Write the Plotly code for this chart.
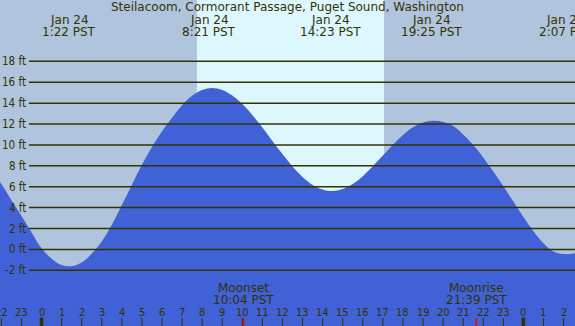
import plotly.graph_objects as go

# ---- data ----
title_text = "Steilacoom, Cormorant Passage, Puget Sound, Washington"

# tide curve samples (every half hour): hours since 00:00 Jan 24 (PST), height in ft
tide_hours = [-2.5, -2.0, -1.5, -1.0, -0.5, 0.0, 0.5, 1.0, 1.5, 2.0, 2.5, 3.0, 3.5,
              4.0, 4.5, 5.0, 5.5, 6.0, 6.5, 7.0, 7.5, 8.0, 8.5, 9.0, 9.5, 10.0, 10.5,
              11.0, 11.5, 12.0, 12.5, 13.0, 13.5, 14.0, 14.5, 15.0, 15.5, 16.0, 16.5,
              17.0, 17.5, 18.0, 18.5, 19.0, 19.5, 20.0, 20.5, 21.0, 21.5, 22.0, 22.5,
              23.0, 23.5, 24.0, 24.5, 25.0, 25.5, 26.0, 26.5, 27.0]
tide_ft = [7.7, 6.25, 4.7, 3.2, 1.65, 0.1, -0.9, -1.5, -1.6, -1.25, -0.4, 0.76, 2.35,
           4.25, 6.2, 8.1, 9.8, 11.3, 12.6, 13.8, 14.7, 15.25, 15.45, 15.25, 14.72, 13.91, 12.86,
           11.66, 10.38, 9.12, 7.94, 6.94, 6.17, 5.73, 5.58, 5.77, 6.26, 7.01, 7.96,
           8.98, 10.02, 10.94, 11.68, 12.15, 12.31, 12.2, 11.8, 11.0, 10.0, 8.8, 7.45,
           6.05, 4.58, 3.1, 1.75, 0.6, -0.2, -0.45, -0.4, -0.1]

# tide extremes (label positions / texts)
extreme_hours = [1.367, 8.35, 14.383, 19.417, 26.117]
extreme_dates = ["Jan 24", "Jan 24", "Jan 24", "Jan 24", "Jan 25"]
extreme_times = ["1:22 PST", "8:21 PST", "14:23 PST", "19:25 PST", "2:07 PST"]

# daylight
sunrise_hour = 7.74
sunset_hour = 17.06

# moon events
moon_hours = [10.067, 21.65]
moon_names = ["Moonset", "Moonrise"]
moon_times = ["10:04 PST", "21:39 PST"]

# axes
grid_ft = [-2, 0, 2, 4, 6, 8, 10, 12, 14, 16, 18]
hour_ticks = list(range(-2, 27))
midnight_hours = [0, 24]

x_range = [-2.07, 26.57]
y_range = [-7.33, 23.87]

# ---- styles ----
W, H = 575, 326
night_col = "#b0c4de"
day_col = "#ddf7ff"
fill_col = "#4161d6"
ink = "#333300"
font_main = "DejaVu Sans"
font_cond = "DejaVu Sans Condensed, DejaVu Sans"

fig = go.Figure()

# baseline (below bottom of plot) and tide area
fig.add_trace(go.Scatter(x=[tide_hours[0], tide_hours[-1]], y=[y_range[0] - 1, y_range[0] - 1],
                         mode="lines", line=dict(width=0), hoverinfo="skip",
                         showlegend=False))
fig.add_trace(go.Scatter(x=tide_hours, y=tide_ft, mode="lines",
                         line=dict(width=0, color=fill_col, shape="spline", smoothing=1.0),
                         fill="tonexty", fillcolor=fill_col, showlegend=False))

shapes = []
# daylight band
shapes.append(dict(type="rect", xref="x", yref="paper", x0=sunrise_hour, x1=sunset_hour,
                   y0=0, y1=1, fillcolor=day_col, line=dict(width=0), layer="below"))
# gridlines
for v in grid_ft:
    shapes.append(dict(type="line", xref="paper", yref="y", x0=29 / W, x1=1, y0=v, y1=v,
                       line=dict(color=ink, width=1.5), layer="above"))
# hour ticks
for h in hour_ticks:
    shapes.append(dict(type="line", xref="x", yref="paper", x0=h, x1=h,
                       y0=0, y1=8 / H, line=dict(color=ink, width=1), layer="above"))
for h in midnight_hours:
    shapes.append(dict(type="line", xref="x", yref="paper", x0=h, x1=h,
                       y0=0, y1=8.5 / H, line=dict(color=ink, width=3.5), layer="above"))
for h in moon_hours:
    shapes.append(dict(type="line", xref="x", yref="paper", x0=h, x1=h,
                       y0=0, y1=8 / H, line=dict(color="#ff0000", width=1.5), layer="above"))

ann = []
def ypx(py):
    return 1 - py / H

ann.append(dict(text=title_text, xref="paper", yref="paper", x=0.5, y=ypx(7.5),
                showarrow=False, xanchor="center", yanchor="middle",
                font=dict(family=font_main, size=12, color=ink)))
for h, d, t in zip(extreme_hours, extreme_dates, extreme_times):
    ann.append(dict(text=d, xref="x", yref="paper", x=h, y=ypx(20), showarrow=False,
                    xanchor="center", yanchor="middle",
                    font=dict(family=font_main, size=12, color=ink)))
    ann.append(dict(text=t, xref="x", yref="paper", x=h, y=ypx(32), showarrow=False,
                    xanchor="center", yanchor="middle",
                    font=dict(family=font_main, size=12, color=ink)))
for v in grid_ft:
    ann.append(dict(text=f"{v} ft", xref="paper", yref="y", x=27.5 / W, y=v,
                    showarrow=False, xanchor="right", yanchor="middle",
                    font=dict(family=font_cond, size=11.5, color=ink)))
for h in hour_ticks:
    ann.append(dict(text=str(h % 24), xref="x", yref="paper", x=h, y=ypx(312),
                    showarrow=False, xanchor="center", yanchor="middle",
                    font=dict(family=font_cond, size=11, color=ink)))
for h, n, t in zip(moon_hours, moon_names, moon_times):
    ann.append(dict(text=n, xref="x", yref="paper", x=h, y=ypx(287.5), showarrow=False,
                    xanchor="center", yanchor="middle",
                    font=dict(family=font_main, size=12, color=ink)))
    ann.append(dict(text=t, xref="x", yref="paper", x=h, y=ypx(299.5), showarrow=False,
                    xanchor="center", yanchor="middle",
                    font=dict(family=font_main, size=12, color=ink)))

fig.update_layout(
    width=W, height=H, margin=dict(l=0, r=0, t=0, b=0),
    paper_bgcolor=night_col, plot_bgcolor=night_col,
    xaxis=dict(range=x_range, visible=False, fixedrange=True),
    yaxis=dict(range=y_range, visible=False, fixedrange=True),
    shapes=shapes, annotations=ann, showlegend=False,
)

fig.write_html("out.html", config={"displayModeBar": False},
               post_script="document.body.style.margin='0';document.body.style.overflow='hidden';")
